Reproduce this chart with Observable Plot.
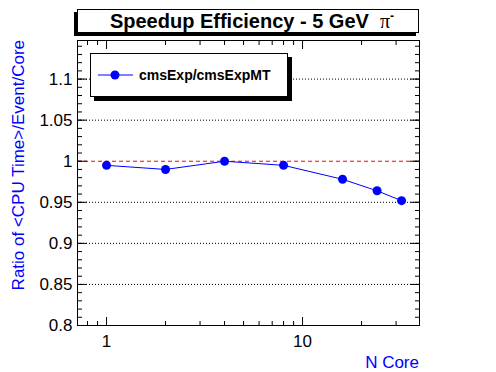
<!DOCTYPE html>
<html><head><meta charset="utf-8">
<script src="https://cdn.jsdelivr.net/npm/d3@7"></script>
<script src="https://cdn.jsdelivr.net/npm/@observablehq/plot@0.6"></script>
<style>body{margin:0;background:#fff;} svg{font-family:"Liberation Sans",Arial,sans-serif;}</style>
</head><body><div id="chart"></div>
<script>
const cores = [1, 2, 4, 8, 16, 24, 32];
const ratio = [0.995, 0.990, 1.000, 0.995, 0.978, 0.964, 0.952];
const yMajor = [0.8, 0.85, 0.9, 0.95, 1, 1.05, 1.1];
const yGrid = [0.85, 0.9, 0.95, 1.05, 1.1];
const yMinor = d3.range(80, 115).map(v => v / 100);
const xMajor = [1, 10];
const xMinor = [0.8, 0.9, 2, 3, 4, 5, 6, 7, 8, 9, 20, 30];
const title = "Speedup Efficiency - 5 GeV  ";
const seriesName = "cmsExp/cmsExpMT";

const data = cores.map((c, i) => ({c, r: ratio[i]}));
const W = 496, H = 372, mL = 77, mR = 77, mT = 40, mB = 47;
const none = () => "";

const fmtY = d => d === 1 ? "1" : String(d);
const plot = Plot.plot({
  width: W, height: H,
  marginLeft: mL, marginRight: mR, marginTop: mT, marginBottom: mB,
  style: {fontFamily: "Liberation Sans, Arial, sans-serif", fontSize: "17px", color: "black", background: "white", overflow: "visible"},
  x: {type: "log", domain: [0.711, 39.5]},
  y: {domain: [0.8, 1.147]},
  marks: [
    Plot.ruleY(yGrid, {stroke: "black", strokeDasharray: "1,2", strokeWidth: 1}),
    Plot.ruleY([1], {stroke: "#ff0000", strokeDasharray: "4,3", strokeWidth: 1}),
    Plot.frame({stroke: "black", strokeWidth: 1}),
    Plot.axisY({anchor: "left", ticks: yMajor, tickSize: -10, tickFormat: fmtY, tickPadding: 15, label: null, fontSize: 17}),
    Plot.axisY({anchor: "right", ticks: yMajor, tickSize: -10, tickFormat: none, label: null}),
    Plot.axisY({anchor: "left", ticks: yMinor, tickSize: -5, tickFormat: none, label: null}),
    Plot.axisY({anchor: "right", ticks: yMinor, tickSize: -5, tickFormat: none, label: null}),
    Plot.axisX({anchor: "bottom", ticks: xMajor, tickSize: -8, tickFormat: d => String(d), tickPadding: 17, label: null, fontSize: 17}),
    Plot.axisX({anchor: "top", ticks: xMajor, tickSize: -8, tickFormat: none, label: null}),
    Plot.axisX({anchor: "bottom", ticks: xMinor, tickSize: -4, tickFormat: none, label: null}),
    Plot.axisX({anchor: "top", ticks: xMinor, tickSize: -4, tickFormat: none, label: null}),
    Plot.line(data, {x: "c", y: "r", stroke: "#0000ff", strokeWidth: 1}),
    Plot.dot(data, {x: "c", y: "r", r: 4.5, fill: "#0000ff", stroke: "none"})
  ]
});
document.getElementById("chart").appendChild(plot);

const svg = d3.select(plot);
// axis titles
svg.append("text").attr("transform", `translate(24,${mT}) rotate(-90)`)
  .attr("text-anchor", "end").attr("fill", "#0000ff").attr("font-size", 17)
  .text("Ratio of <CPU Time>/Event/Core");
svg.append("text").attr("x", W - mR).attr("y", 368).attr("text-anchor", "end")
  .attr("fill", "#0000ff").attr("font-size", 17).text("N Core");

// title box with shadow (left/bottom)
svg.append("rect").attr("x", 74).attr("y", 12).attr("width", 342).attr("height", 24).attr("fill", "black");
svg.append("rect").attr("x", 77.5).attr("y", 9.5).attr("width", 341).attr("height", 23).attr("fill", "white").attr("stroke", "black");
const t = svg.append("text").attr("x", 252).attr("y", 28).attr("text-anchor", "middle")
  .attr("font-size", 20).attr("font-weight", "bold").text(title);
t.append("tspan").attr("font-family", "Liberation Serif, Times New Roman, serif").attr("font-weight", "normal").text("π");
t.append("tspan").attr("dy", -8).attr("font-size", 12).text("-");

// legend with shadow (right/bottom)
svg.append("rect").attr("x", 94).attr("y", 57).attr("width", 198).attr("height", 44).attr("fill", "black");
svg.append("rect").attr("x", 90.5).attr("y", 53.5).attr("width", 197).attr("height", 43).attr("fill", "white").attr("stroke", "black");
svg.append("line").attr("x1", 98).attr("x2", 133).attr("y1", 75).attr("y2", 75).attr("stroke", "#0000ff");
svg.append("circle").attr("cx", 115).attr("cy", 75).attr("r", 4.5).attr("fill", "#0000ff");
svg.append("text").attr("x", 139).attr("y", 80).attr("text-anchor", "start").attr("font-size", 14).attr("font-weight", "bold").text(seriesName);
</script></body></html>
